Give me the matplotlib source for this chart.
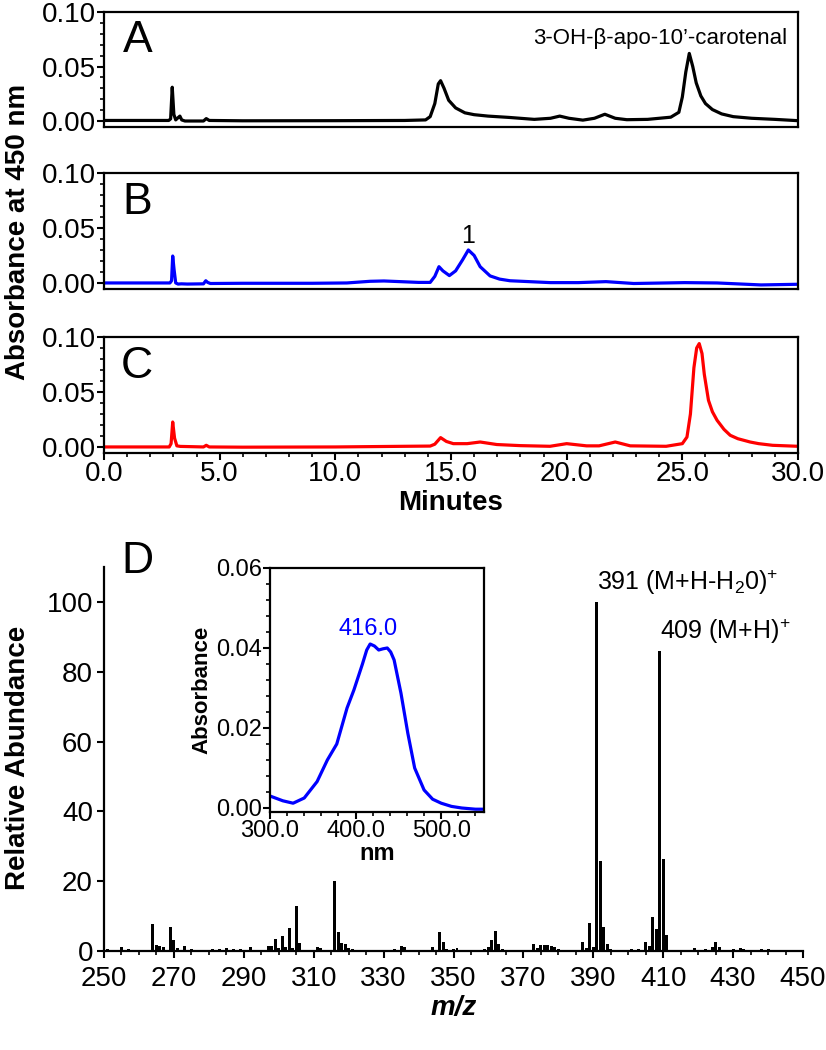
import numpy as np
import matplotlib
matplotlib.use("Agg")
import matplotlib.pyplot as plt
from matplotlib.ticker import MultipleLocator

plt.rcParams['font.family'] = ['Liberation Sans', 'DejaVu Sans']
plt.rcParams['mathtext.default'] = 'regular'

# HPLC traces (minutes, absorbance at 450 nm)
time_a = [0, 2.8, 2.88, 2.95, 3.02, 3.1, 3.2, 3.28, 3.36, 3.5, 4.3, 4.42, 4.55, 6, 10, 13.0,
          13.9, 14.1, 14.3, 14.45, 14.55, 14.7, 14.9, 15.2, 15.6, 16.0, 16.6, 17.5, 18.6, 19.3,
          19.7, 20.1, 20.7, 21.2, 21.65, 22.1, 22.6, 23.5, 24.5, 24.85, 25.0, 25.15, 25.3, 25.45,
          25.6, 25.8, 26.0, 26.3, 26.7, 27.2, 28.0, 29.0, 30.0]
abs_a = [0.0005, 0.0005, 0.002, 0.031, 0.006, 0.001, 0.003, 0.0045, 0.001, 0.0, 0.0, 0.0022,
         0.0005, 0.0002, 0.0003, 0.0005, 0.001, 0.004, 0.016, 0.034, 0.037, 0.030, 0.019, 0.012,
         0.0075, 0.0058, 0.0045, 0.0033, 0.0015, 0.0025, 0.0045, 0.0025, 0.0008, 0.0025, 0.0062,
         0.0025, 0.0012, 0.0015, 0.0035, 0.008, 0.022, 0.045, 0.062, 0.050, 0.035, 0.023, 0.016,
         0.0105, 0.0065, 0.004, 0.0025, 0.0015, 0.0003]

time_b = [0, 2.85, 2.92, 2.97, 3.03, 3.1, 3.2, 3.35, 3.6, 4.3, 4.4, 4.48, 4.6, 6, 9, 10.5,
          11.5, 12.1, 12.8, 13.6, 14.1, 14.3, 14.48, 14.65, 14.93, 15.2, 15.5, 15.75, 16.0,
          16.26, 16.69, 17.1, 17.55, 19.3, 20.5, 21.7, 22.9, 25.1, 26.5, 28.4, 30.0]
abs_b = [0.0, 0.0, 0.002, 0.0245, 0.012, 0.0, -0.001, -0.0008, -0.001, -0.0008, 0.002, 0.0005,
         -0.0005, -0.0003, -0.0003, 0.0, 0.0015, 0.0018, 0.0012, 0.0005, 0.0005, 0.006, 0.0148,
         0.011, 0.0067, 0.011, 0.021, 0.030, 0.025, 0.0148, 0.0064, 0.0035, 0.002, 0.0003,
         0.0003, 0.0012, -0.0005, 0.0003, 0.0, -0.0018, -0.0012]

time_c = [0, 2.82, 2.9, 2.97, 3.05, 3.15, 3.3, 4.3, 4.42, 4.55, 6, 10, 13.0, 14.1, 14.3, 14.55,
          14.8, 15.1, 15.7, 16.26, 16.98, 18.0, 19.28, 20.0, 20.86, 21.4, 22.1, 22.75, 24.3,
          25.0, 25.2, 25.35, 25.5, 25.62, 25.73, 25.85, 25.95, 26.13, 26.3, 26.5, 26.8, 27.07,
          27.4, 27.93, 28.3, 28.9, 30.0]
abs_c = [0.0, 0.0, 0.003, 0.0227, 0.008, 0.001, 0.0005, 0.0, 0.0015, 0.0, -0.0002, 0.0, 0.0006,
         0.0008, 0.0025, 0.0085, 0.005, 0.003, 0.003, 0.0045, 0.0022, 0.0012, 0.0006, 0.003,
         0.001, 0.001, 0.0045, 0.001, 0.0006, 0.003, 0.009, 0.03, 0.072, 0.09, 0.094, 0.085,
         0.066, 0.0424, 0.032, 0.0243, 0.016, 0.0106, 0.0075, 0.0045, 0.003, 0.0015, 0.0006]

# mass spectrum (m/z, relative abundance)
mz = [251, 253, 255, 257, 259, 264, 265, 266, 267, 269, 270, 271, 273, 275, 281, 283, 285, 287,
      289, 292, 294, 296, 297, 298, 299, 300, 301, 302, 303, 304, 305, 306, 311, 312, 316, 317,
      318, 319, 320, 321, 323, 326, 329, 333, 335, 336, 344, 346, 347, 348, 350, 351, 354, 357,
      359, 360, 361, 362, 363, 364, 368, 373, 374, 375, 376, 377, 378, 379, 380, 381, 387, 388,
      389, 390, 391, 392, 393, 394, 395, 401, 403, 405, 406, 407, 408, 409, 410, 411, 412, 419,
      421, 422, 424, 425, 426, 430, 432, 433, 438, 440]
abundance = [0.7, 0.4, 1.1, 0.7, 0.2, 7.7, 1.6, 1.4, 1.1, 6.9, 3.1, 1.0, 1.3, 0.7, 0.5, 0.7, 1.0,
             0.7, 0.5, 1.2, 0.4, 0.4, 1.3, 1.4, 3.5, 1.0, 4.2, 1.1, 6.5, 1.0, 12.9, 2.4, 1.2, 1.0,
             20.1, 5.3, 2.3, 1.9, 1.0, 0.7, 0.4, 0.4, 0.4, 0.5, 1.4, 1.1, 1.1, 5.5, 2.6, 0.7, 0.7,
             0.9, 0.3, 0.3, 0.7, 1.1, 3.1, 5.7, 2.1, 0.7, 0.3, 2.1, 1.0, 1.8, 1.8, 1.6, 1.4, 1.1,
             0.7, 0.4, 2.6, 1.0, 8.1, 1.1, 100, 25.8, 6.9, 1.9, 0.7, 0.6, 0.7, 2.6, 1.3, 9.6, 6.4,
             86, 26.3, 4.7, 0.4, 0.9, 0.4, 0.7, 1.1, 2.6, 1.1, 0.5, 1.0, 0.7, 0.7, 0.5]
mz_ticks = [250, 270, 290, 310, 330, 350, 370, 390, 410, 430, 450]

# UV-vis spectrum of peak 1
wavelength = [300, 315, 327, 340, 355, 367, 378, 390, 398, 408, 413, 417, 422, 427, 432, 437,
              441, 445, 453, 461, 469, 480, 490, 500, 512, 524, 540, 552]
uv_abs = [0.003, 0.0018, 0.0012, 0.0025, 0.0066, 0.012, 0.016, 0.025, 0.0295, 0.036, 0.0395,
          0.041, 0.0405, 0.0395, 0.0398, 0.040, 0.039, 0.037, 0.0287, 0.0187, 0.010, 0.0045,
          0.0022, 0.0012, 0.0004, 0.0, -0.0003, -0.0003]

W, H = 826, 1050
fig = plt.figure(figsize=(W / 100, H / 100), dpi=100)

def frac(left, top, right, bottom):
    return [left / W, 1 - bottom / H, (right - left) / W, (bottom - top) / H]

def style_axis(ax, fs=20):
    for sp in ax.spines.values():
        sp.set_linewidth(1.6)
    ax.tick_params(which='major', direction='out', length=5, width=1.5, labelsize=fs, pad=1)
    ax.tick_params(which='minor', direction='out', length=3, width=1.2)

traces = [(time_a, abs_a, 'black', 'A', 12, 127),
          (time_b, abs_b, '#0000ff', 'B', 173, 289),
          (time_c, abs_c, '#ff0000', 'C', 337, 453)]
axes = []
for t, a, col, letter, top, bot in traces:
    ax = fig.add_axes(frac(104, top, 798, bot))
    ax.plot(t, a, color=col, lw=2.3)
    ax.set_xlim(0, 30)
    ax.set_ylim(-0.0055, 0.10)
    ax.yaxis.set_major_locator(MultipleLocator(0.05))
    ax.yaxis.set_minor_locator(MultipleLocator(0.01))
    ax.yaxis.set_major_formatter(plt.FormatStrFormatter('%.2f'))
    ax.xaxis.set_major_locator(MultipleLocator(5))
    ax.xaxis.set_minor_locator(MultipleLocator(1))
    ax.xaxis.set_major_formatter(plt.FormatStrFormatter('%.1f'))
    style_axis(ax)
    ax.text(0.048, 0.75, letter, transform=ax.transAxes, fontsize=32,
            ha='center', va='center')
    axes.append(ax)

for ax in axes[:2]:
    ax.tick_params(axis='x', which='both', bottom=False, labelbottom=False)

axes[0].text(0.985, 0.77, '3-OH-\u03b2-apo-10\u2019-carotenal', transform=axes[0].transAxes,
             fontsize=16, ha='right', va='center')
axes[1].text(15.75, 0.043, '1', fontsize=18, ha='center', va='center')
axes[2].set_xlabel('Minutes', fontsize=20, fontweight='bold', labelpad=2)

fig.text(18 / W, 1 - 232 / H, 'Absorbance at 450 nm', rotation=90, fontsize=20,
         fontweight='bold', ha='center', va='center')

# mass spectrum panel
axd = fig.add_axes(frac(104, 567, 803, 951))
axd.bar(mz, abundance, width=0.85, color='black')
axd.set_xlim(250, 450)
axd.set_ylim(0, 110)
axd.set_xticks(mz_ticks)
axd.xaxis.set_minor_locator(MultipleLocator(5))
axd.yaxis.set_major_locator(MultipleLocator(20))
axd.spines['top'].set_visible(False)
axd.spines['right'].set_visible(False)
style_axis(axd)
axd.tick_params(axis='x', which='major', pad=6)
axd.tick_params(axis='y', which='major', pad=3)
axd.set_xlabel('m/z', fontsize=20, fontweight='bold', style='italic', labelpad=2)
axd.text(0.048, 1.015, 'D', transform=axd.transAxes, fontsize=32, ha='center', va='center')
axd.text(391, 101.5, '391 (M+H-H$_2$0)$^{+}$', fontsize=18, ha='left', va='bottom')
axd.text(409, 87.5, '409 (M+H)$^{+}$', fontsize=18, ha='left', va='bottom')
fig.text(18 / W, 1 - 758 / H, 'Relative Abundance', rotation=90, fontsize=20,
         fontweight='bold', ha='center', va='center')

# inset UV spectrum
axi = fig.add_axes(frac(270, 568, 484, 812))
axi.plot(wavelength, uv_abs, color='#0000ff', lw=2.3)
axi.set_xlim(300, 550)
axi.set_ylim(-0.001, 0.06)
axi.xaxis.set_major_locator(MultipleLocator(100))
axi.xaxis.set_minor_locator(MultipleLocator(20))
axi.yaxis.set_major_locator(MultipleLocator(0.02))
axi.yaxis.set_minor_locator(MultipleLocator(0.004))
axi.xaxis.set_major_formatter(plt.FormatStrFormatter('%.1f'))
axi.yaxis.set_major_formatter(plt.FormatStrFormatter('%.2f'))
style_axis(axi, fs=17)
axi.set_xlabel('nm', fontsize=17, fontweight='bold', labelpad=0)
axi.set_ylabel('Absorbance', fontsize=16, fontweight='bold', labelpad=2)
axi.text(415, 0.0447, '416.0', color='#0000ff', fontsize=17, ha='center', va='center')

fig.savefig('out.png', dpi=100)
